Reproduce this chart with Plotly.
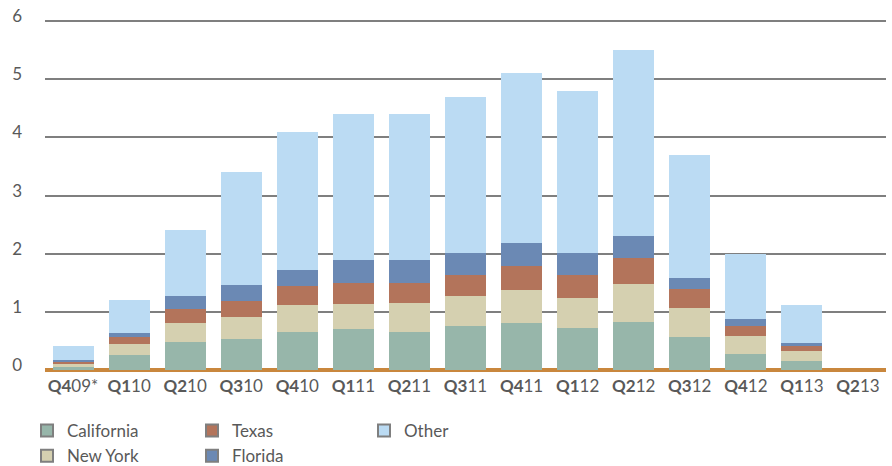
import plotly.graph_objects as go

quarters = ["Q4", "Q1", "Q2", "Q3", "Q4", "Q1", "Q2", "Q3", "Q4", "Q1", "Q2", "Q3", "Q4", "Q1", "Q2"]
years = ["09*", "10", "10", "10", "10", "11", "11", "11", "11", "12", "12", "12", "12", "13", "13"]

california = [0.05, 0.25, 0.49, 0.54, 0.66, 0.71, 0.66, 0.75, 0.81, 0.73, 0.83, 0.56, 0.28, 0.16, 0]
new_york   = [0.07, 0.19, 0.32, 0.38, 0.45, 0.43, 0.50, 0.53, 0.57, 0.51, 0.65, 0.51, 0.31, 0.17, 0]
texas      = [0.03, 0.12, 0.24, 0.27, 0.34, 0.36, 0.34, 0.35, 0.41, 0.39, 0.45, 0.32, 0.16, 0.09, 0]
florida    = [0.02, 0.08, 0.23, 0.28, 0.27, 0.40, 0.40, 0.39, 0.40, 0.39, 0.38, 0.20, 0.12, 0.05, 0]
other      = [0.25, 0.57, 1.12, 1.93, 2.38, 2.50, 2.50, 2.68, 2.91, 2.78, 3.19, 2.11, 1.13, 0.64, 0]

y_ticks = [0, 1, 2, 3, 4, 5, 6]

labels = [f"<b>{q}</b>{y}" for q, y in zip(quarters, years)]

series = [
    ("California", california, "#97B6AA"),
    ("New York", new_york, "#D5D0B0"),
    ("Texas", texas, "#B3745B"),
    ("Florida", florida, "#6B89B4"),
    ("Other", other, "#BBDBF3"),
]

FONT = "Lato"
TXT = "#595959"

fig = go.Figure()
for name, vals, col in series:
    fig.add_trace(go.Bar(x=labels, y=vals, name=name, marker=dict(color=col, line=dict(width=0)),
                         showlegend=False))

legend_map = {"California": "legend", "New York": "legend", "Texas": "legend2",
              "Florida": "legend2", "Other": "legend3"}
for name, vals, col in series:
    fig.add_trace(go.Scatter(x=[None], y=[None], mode="markers", name=name,
                             marker=dict(symbol="square", size=16, color=col,
                                         line=dict(color="#7F7F7F", width=1.5)),
                             legend=legend_map[name], showlegend=True))

leg_common = dict(orientation="v", yref="container", yanchor="top", y=1 - 413 / 466,
                  xref="container", xanchor="left", traceorder="normal",
                  font=dict(family=FONT, size=17, color=TXT), tracegroupgap=0,
                  bgcolor="rgba(0,0,0,0)", itemsizing="constant")

fig.update_layout(
    width=892, height=466,
    margin=dict(l=45, r=6, t=20, b=96, autoexpand=False),
    barmode="stack", bargap=0.27,
    plot_bgcolor="white", paper_bgcolor="white",
    font=dict(family=FONT, color=TXT),
    legend=dict(x=27 / 892, **leg_common),
    legend2=dict(x=192 / 892, **leg_common),
    legend3=dict(x=364 / 892, **leg_common),
    xaxis=dict(type="category", showgrid=False, showline=False, ticks="", automargin=False,
               tickangle=0, ticklabelstandoff=4, tickfont=dict(family=FONT, size=17, color=TXT)),
    yaxis=dict(range=[0, 6.02], tickvals=y_ticks, showgrid=True, gridcolor="#7F7F7F", gridwidth=1.5,
               zeroline=True, zerolinecolor="#C9873D", zerolinewidth=4, automargin=False,
               showline=False, ticks="", ticklabelstandoff=22, ticklabelshift=-5,
               tickfont=dict(family=FONT, size=17, color=TXT)),
)

fig.write_html("out.html", config={"displayModeBar": False},
               post_script="document.body.style.margin='0';")
